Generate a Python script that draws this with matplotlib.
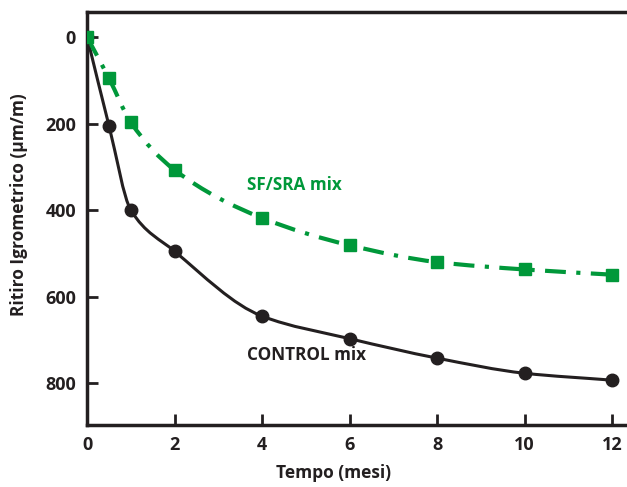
import matplotlib
matplotlib.use("Agg")
import matplotlib.pyplot as plt
from matplotlib.path import Path
from matplotlib.patches import PathPatch
import numpy as np

# dati
mesi = [0, 0.5, 1, 2, 4, 6, 8, 10, 12]
control = [0, 205, 400, 495, 645, 697, 742, 777, 793]
sf_sra = [0, 95, 197, 307, 418, 481, 520, 537, 549]

verde = '#00983a'
nero = '#231f20'

plt.rcParams['font.family'] = ['Open Sans', 'DejaVu Sans']
plt.rcParams['font.weight'] = 'bold'


def curva_liscia(x, y):
    # Bezier cubiche con tangenti monotone (tipo PCHIP)
    x = np.asarray(x, float)
    y = np.asarray(y, float)
    h = np.diff(x)
    d = np.diff(y) / h
    m = np.zeros_like(y)
    m[0] = d[0]
    m[-1] = d[-1]
    for i in range(1, len(x) - 1):
        if d[i - 1] * d[i] <= 0:
            m[i] = 0
        else:
            w1 = 2 * h[i] + h[i - 1]
            w2 = h[i] + 2 * h[i - 1]
            m[i] = (w1 + w2) / (w1 / d[i - 1] + w2 / d[i])
    verts = [(x[0], y[0])]
    codes = [Path.MOVETO]
    for i in range(len(x) - 1):
        verts += [(x[i] + h[i] / 3, y[i] + m[i] * h[i] / 3),
                  (x[i + 1] - h[i] / 3, y[i + 1] - m[i + 1] * h[i] / 3),
                  (x[i + 1], y[i + 1])]
        codes += [Path.CURVE4] * 3
    return Path(verts, codes)


fig = plt.figure(figsize=(6.27, 4.87), dpi=100)
ax = fig.add_axes([0.139, 0.127, 0.861, 0.848])

ax.add_patch(PathPatch(curva_liscia(mesi, control), fill=False,
                       edgecolor=nero, lw=2.2))
ax.add_patch(PathPatch(curva_liscia(mesi, sf_sra), fill=False,
                       edgecolor=verde, lw=3, linestyle=(0, (5, 2.5, 1, 2.5))))
ax.plot(mesi, control, 'o', color=nero, ms=9, zorder=3)
ax.plot(mesi, sf_sra, 's', color=verde, ms=8.5, zorder=3)

ax.text(3.66, 342, 'SF/SRA mix', color=verde, fontsize=12.3, fontweight='bold',
        va='center', ha='left')
ax.text(3.66, 735, 'CONTROL mix', color=nero, fontsize=12.3, fontweight='bold',
        va='center', ha='left')

ax.set_xlim(0, 12.34)
ax.set_ylim(897, -58)
ax.set_xticks([0, 2, 4, 6, 8, 10, 12])
ax.set_yticks([0, 200, 400, 600, 800])
ax.tick_params(direction='in', length=8, width=2, labelsize=13,
               colors=nero, pad=8)
for lab in ax.get_xticklabels() + ax.get_yticklabels():
    lab.set_fontweight('bold')

for s in ['left', 'bottom', 'top']:
    ax.spines[s].set_linewidth(2.5)
    ax.spines[s].set_color(nero)
ax.spines['right'].set_visible(False)

ax.set_xlabel('Tempo (mesi)', fontsize=12.5, fontweight='bold', color=nero)
ax.set_ylabel('Ritiro Igrometrico (µm/m)', fontsize=12.5, fontweight='bold',
              color=nero)
ax.xaxis.set_label_coords(0.456, -0.094)
ax.yaxis.set_label_coords(-0.109, 0.535)

fig.savefig('out.png', dpi=100)
